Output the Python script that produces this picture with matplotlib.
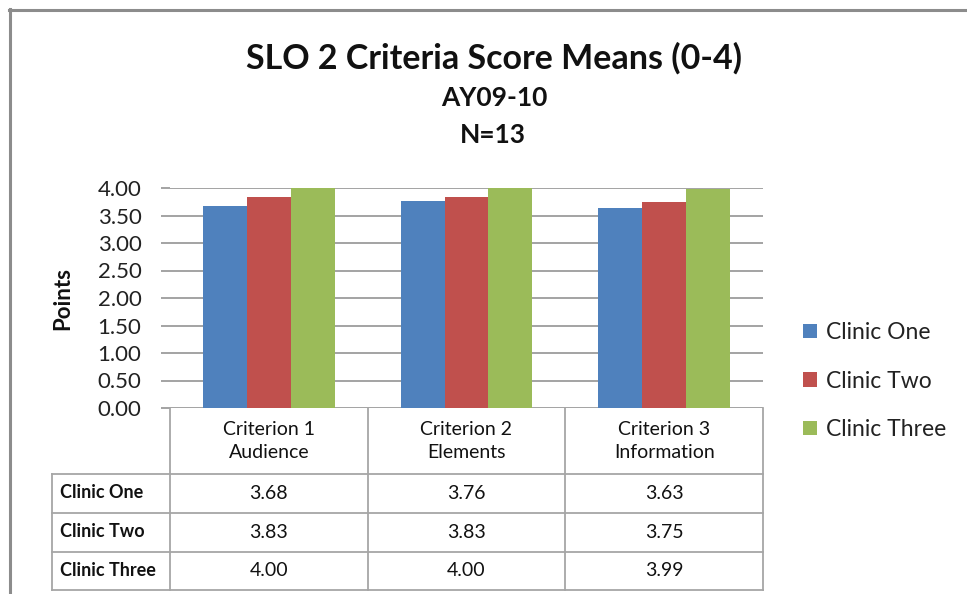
import matplotlib
matplotlib.use("Agg")
import matplotlib.pyplot as plt
from matplotlib.lines import Line2D
from matplotlib.patches import Patch
import numpy as np

plt.rcParams['font.family'] = ['Lato', 'DejaVu Sans']

categories = ["Criterion 1\nAudience", "Criterion 2\nElements", "Criterion 3\nInformation"]
series_names = ["Clinic One", "Clinic Two", "Clinic Three"]
clinic_one = [3.68, 3.76, 3.63]
clinic_two = [3.83, 3.83, 3.75]
clinic_three = [4.00, 4.00, 3.99]
series_values = [clinic_one, clinic_two, clinic_three]
colors = ["#4F81BD", "#C0504D", "#9BBB59"]
yticks = [0.0, 0.5, 1.0, 1.5, 2.0, 2.5, 3.0, 3.5, 4.0]

W, H = 967, 594
fig = plt.figure(figsize=(W / 100, H / 100), dpi=100)

def fx(px):
    return px / W

def fy(py):
    return 1 - py / H

# plot area
ax_l, ax_r, ax_t, ax_b = 170, 763, 188, 408
ax = fig.add_axes([fx(ax_l), fy(ax_b), fx(ax_r - ax_l), (ax_b - ax_t) / H])
n = len(categories)
x = np.arange(n)
bw = 1 / 4.5
for i, (vals, c) in enumerate(zip(series_values, colors)):
    ax.bar(x + (i - 1) * bw, vals, width=bw, color=c, zorder=3)
ax.set_xlim(-0.5, n - 0.5)
ax.set_ylim(0, 4)
ax.set_yticks(yticks)
ax.set_yticklabels([f"{v:.2f}" for v in yticks], fontsize=16, color="#222222")
ax.set_xticks([])
for s in ax.spines.values():
    s.set_visible(False)
ax.yaxis.grid(True, color="#8a8a8a", lw=1.1, zorder=0)
ax.tick_params(axis='y', length=6.5, color="#8a8a8a", width=1.1, pad=14)
ax.set_axisbelow(True)

# table axes
tab_t, tab_b = 408, 590
tax = fig.add_axes([fx(ax_l), fy(tab_b), fx(ax_r - ax_l), (tab_b - tab_t) / H])
tax.set_xlim(-0.5, n - 0.5)
tax.set_ylim(tab_b - tab_t, 0)
tax.axis('off')
cat_px = (ax_r - ax_l) / n
left_x = -0.5 - (ax_l - 52) / cat_px
label_x = -0.5 - (ax_l - 60) / cat_px
row_edges = [0, 66, 105, 144, 182]
lc = "#a6a6a6"
lw = 1.3
for k in range(n + 1):
    tax.plot([k - 0.5, k - 0.5], [0, 182], color=lc, lw=lw, clip_on=False)
tax.plot([left_x, left_x], [row_edges[1], 182], color=lc, lw=lw, clip_on=False)
for yy in row_edges[1:]:
    tax.plot([left_x, n - 0.5], [yy, yy], color=lc, lw=lw, clip_on=False)
for i, cat in enumerate(categories):
    tax.text(i, 33, cat, ha='center', va='center', fontsize=14, linespacing=1.38, color="#111111")
for r, (name, vals) in enumerate(zip(series_names, series_values)):
    yc = (row_edges[r + 1] + row_edges[r + 2]) / 2
    tax.text(label_x, yc - 1, name, ha='left', va='center', fontsize=13, fontweight='bold',
             color="#111111", clip_on=False)
    for i, v in enumerate(vals):
        tax.text(i, yc, f"{v:.2f}", ha='center', va='center', fontsize=14, color="#111111")

# titles
fig.text(fx(494), fy(58), "SLO 2 Criteria Score Means (0-4)", ha='center', va='center',
         fontsize=24.5, fontweight='bold', color="#111111")
fig.text(fx(494), fy(98), "AY09-10", ha='center', va='center', fontsize=19, fontweight='bold', color="#111111")
fig.text(fx(493), fy(135), "N=13", ha='center', va='center', fontsize=19, fontweight='bold', color="#111111")
fig.text(fx(63), fy(298), "Points", rotation=90, ha='center', va='center', fontsize=16,
         fontweight='bold', color="#111111")

# legend
handles = [Patch(facecolor=c, edgecolor='none') for c in colors]
fig.legend(handles, series_names, loc='center left', bbox_to_anchor=(fx(803), fy(381)),
           frameon=False, fontsize=16.5, handlelength=0.6, handleheight=0.6,
           handletextpad=0.4, labelspacing=1.2, borderpad=0, borderaxespad=0,
           labelcolor="#222222")

# outer frame
fc = "#8c8c8c"
fig.add_artist(Line2D([fx(9), 1], [fy(10), fy(10)], color=fc, lw=2.2))
fig.add_artist(Line2D([fx(10), fx(10)], [0, fy(9)], color=fc, lw=2.2))

fig.savefig("out.png", dpi=100)
